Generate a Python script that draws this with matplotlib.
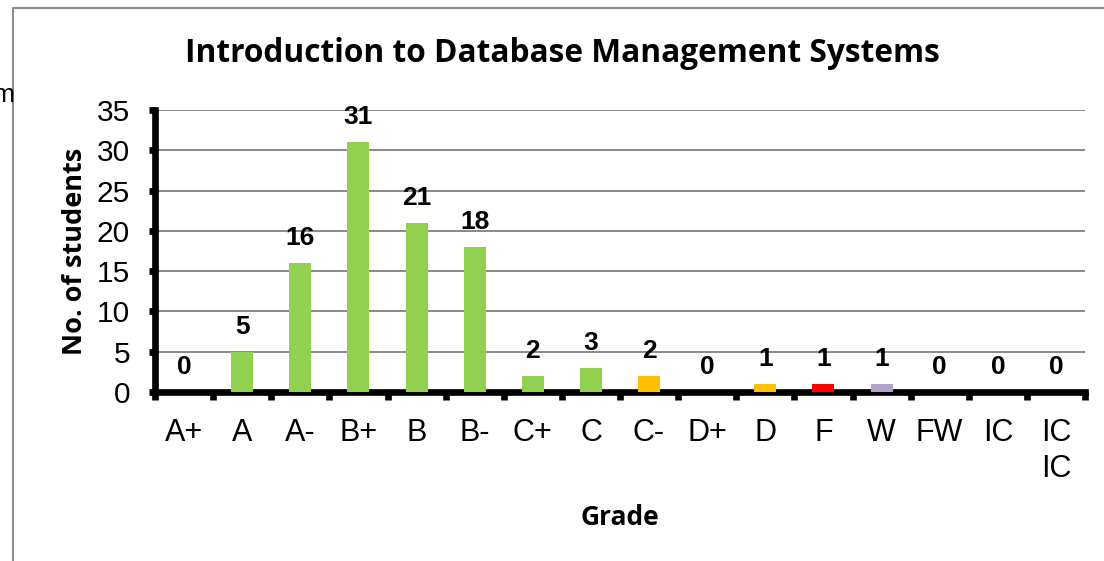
import matplotlib
matplotlib.use("Agg")
import matplotlib.pyplot as plt
from matplotlib.lines import Line2D
import numpy as np

grades = ["A+", "A", "A-", "B+", "B", "B-", "C+", "C", "C-", "D+", "D", "F", "W", "FW", "IC", "IC\nIC"]
students = [0, 5, 16, 31, 21, 18, 2, 3, 2, 0, 1, 1, 1, 0, 0, 0]
bar_colors = ["#92D050"] * 8 + ["#FFC000", "#FFC000", "#FFC000", "#FF0000", "#B3A2C7", "#92D050", "#92D050", "#92D050"]

W, H = 1104, 561
fig = plt.figure(figsize=(W / 100, H / 100), dpi=100)
ax = fig.add_axes([155 / W, 1 - 392 / H, (1085 - 155) / W, (392 - 110) / H])

x = np.arange(len(grades))
ax.bar(x, students, width=0.38, color=bar_colors, zorder=3)

# etiquetas de valor encima de cada barra
for xi, v in zip(x, students):
    ax.annotate(str(v), (xi, v), xytext=(0, 18), textcoords="offset points",
                ha="center", va="center", fontsize=19, fontweight="bold",
                family="Liberation Sans", zorder=4)

ax.set_xlim(-0.5, len(grades) - 0.5)
ax.set_ylim(0, 35)
ax.set_yticks(np.arange(0, 36, 5))
ax.yaxis.grid(True, color="#898989", linewidth=1.4, zorder=0)
ax.set_axisbelow(True)

for s in ["top", "right"]:
    ax.spines[s].set_visible(False)
for s in ["left", "bottom"]:
    ax.spines[s].set_linewidth(4.8)
    ax.spines[s].set_color("black")

ax.set_xticks(x)
ax.set_xticklabels(grades, fontsize=22, family="Liberation Sans", va="top", linespacing=1.25)
ax.tick_params(axis="x", which="major", length=0, pad=19)
ax.set_xticks(np.arange(-0.5, len(grades), 1), minor=True)
ax.tick_params(axis="x", which="minor", length=6, width=4.8, direction="out", color="black")
ax.tick_params(axis="y", which="major", length=4, width=4.8, direction="out", pad=14,
               labelsize=21.5)
for lab in ax.get_yticklabels():
    lab.set_family("Liberation Sans")

ax.set_ylabel("No. of students", fontsize=19.5, fontweight="bold", family="Open Sans", labelpad=6)
ax.set_xlabel("Grade", fontsize=19, fontweight="bold", family="Open Sans", labelpad=14)
fig.text(562 / W, 1 - 54 / H, "Introduction to Database Management Systems",
         ha="center", va="center", fontsize=22.8, fontweight="bold", family="Open Sans")

# marco gris del gráfico y texto cortado a la izquierda
fig.add_artist(Line2D([13 / W, 13 / W, 1.0], [0.0, 1 - 8 / H, 1 - 8 / H],
                      transform=fig.transFigure, color="#8c8c8c", linewidth=1.5))
fig.text(14 / W, 1 - 95 / H, "m", ha="right", va="center", fontsize=19, family="Liberation Sans")

fig.savefig("out.png", dpi=100)
